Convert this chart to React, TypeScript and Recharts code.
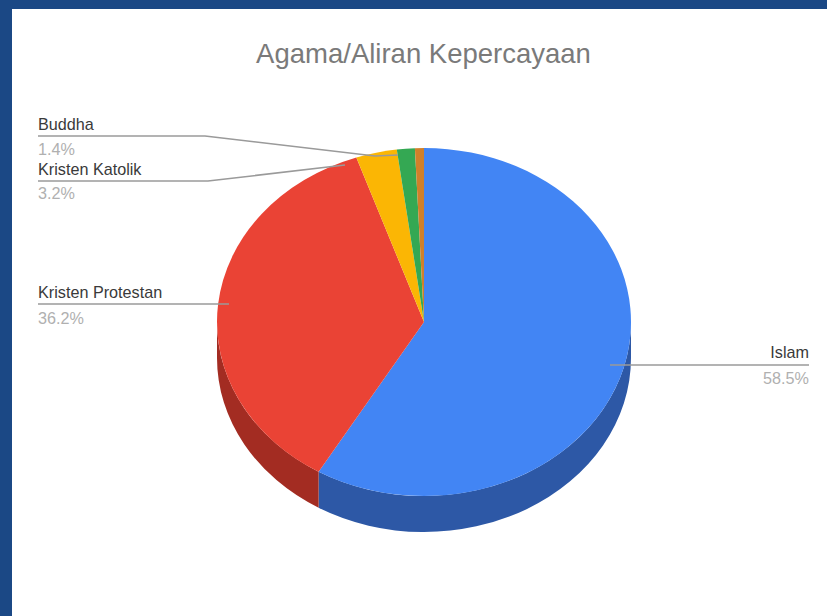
import React from "react";
import { PieChart, Pie } from "recharts";

const names = ["Islam", "Kristen Protestan", "Kristen Katolik", "Buddha", "Hindu"];
const values = [58.5, 36.2, 3.2, 1.4, 0.7];
const percentLabels = ["58.5%", "36.2%", "3.2%", "1.4%", ""];
const topColors = ["#4285f4", "#ea4335", "#fbb604", "#34a853", "#d0802a"];
const wallColors = ["#2d58a6", "#a32c22", "#b0800a", "#24753a", "#8f5a1f"];

const topData = names.map((name, i) => ({ name, value: values[i], fill: topColors[i] }));
const wallData = names.map((name, i) => ({ name, value: values[i], fill: wallColors[i] }));

const CX = 424;
const CY = 322;
const RX = 207;
const RY = 174;
const DEPTH = 36;
const RAD = Math.PI / 180;

const px = (cx: number, a: number, r = RX) => cx + r * Math.cos(a * RAD);
const py = (cy: number, a: number, r = RY) => cy - r * Math.sin(a * RAD);

// recharts only draws circles, so the tilted top face is an elliptical sector
function TopSlice(props: any) {
  const { cx, cy, startAngle, endAngle, fill } = props;
  const large = Math.abs(startAngle - endAngle) > 180 ? 1 : 0;
  const d = `M${cx},${cy} L${px(cx, startAngle)},${py(cy, startAngle)} A${RX},${RY} 0 ${large} 1 ${px(cx, endAngle)},${py(cy, endAngle)} Z`;
  return <path d={d} fill={fill} />;
}

// side wall, only the part of a slice that faces the viewer
function WallSlice(props: any) {
  const { cx, cy, startAngle, endAngle, fill } = props;
  const norm = (a: number) => ((a % 360) + 360) % 360;
  let a = norm(Math.max(startAngle, endAngle));
  let b = norm(Math.min(startAngle, endAngle));
  if (a === 0) a = 360;
  if (b > a) b -= 360;
  const parts: string[] = [];
  // walk the front half of the ellipse, 180 to 360 degrees
  for (const [from, to] of [[a, b], [a + 360, b + 360], [a - 360, b - 360]]) {
    const s = Math.min(from, 360);
    const e = Math.max(to, 180);
    if (s <= e) continue;
    parts.push(
      `M${px(cx, s)},${py(cy, s)} A${RX},${RY} 0 0 1 ${px(cx, e)},${py(cy, e)} L${px(cx, e)},${py(cy, e) + DEPTH} A${RX},${RY} 0 0 0 ${px(cx, s)},${py(cy, s) + DEPTH} Z`
    );
  }
  return <path d={parts.join(" ")} fill={fill} />;
}

// leader layout for each labelled slice
const labelX = [809, 38, 38, 38];
const nameY = [358, 298, 175, 130];
const percentY = [384, 324, 199, 155];
const leaders = [
  "M610,365 L809,365",
  "M38,304 L229,304",
  "M38,181 L208,181 L345,165",
  "M38,136 L205,136 L375,156 L398,155",
];

function SliceLabel(props: any) {
  const i = props.index;
  if (i >= leaders.length) return null;
  const anchor = i === 0 ? "end" : "start";
  return (
    <g fontFamily="Liberation Sans, Arial, sans-serif" fontSize={16.2}>
      <path d={leaders[i]} fill="none" stroke="#9a9a9a" strokeWidth={1.5} />
      <text x={labelX[i]} y={nameY[i]} textAnchor={anchor} fill="#3a3a3a">
        {names[i]}
      </text>
      <text x={labelX[i]} y={percentY[i]} textAnchor={anchor} fill="#b0b0b0">
        {percentLabels[i]}
      </text>
    </g>
  );
}

export default function App() {
  return (
    <div
      style={{
        position: "absolute",
        left: 0,
        top: 0,
        width: 827,
        height: 616,
        overflow: "hidden",
        background: "#1b4885",
      }}
    >
      <div style={{ position: "absolute", left: 12, top: 9, width: 815, height: 607, background: "#ffffff" }} />
      <div
        style={{
          position: "absolute",
          left: 12,
          top: 36,
          width: 823,
          textAlign: "center",
          fontFamily: "Liberation Sans, Arial, sans-serif",
          fontSize: 27.5,
          lineHeight: "36px",
          color: "#7a7a7a",
        }}
      >
        Agama/Aliran Kepercayaan
      </div>
      <div style={{ position: "absolute", left: 0, top: 0 }}>
        <PieChart width={827} height={616} margin={{ top: 0, right: 0, bottom: 0, left: 0 }}>
          <Pie
            data={wallData}
            dataKey="value"
            nameKey="name"
            cx={CX}
            cy={CY}
            outerRadius={RX}
            startAngle={90}
            endAngle={-270}
            stroke="none"
            shape={WallSlice}
            isAnimationActive={false}
          />
          <Pie
            data={topData}
            dataKey="value"
            nameKey="name"
            cx={CX}
            cy={CY}
            outerRadius={RX}
            startAngle={90}
            endAngle={-270}
            stroke="none"
            shape={TopSlice}
            label={SliceLabel}
            labelLine={false}
            isAnimationActive={false}
          />
        </PieChart>
      </div>
    </div>
  );
}
